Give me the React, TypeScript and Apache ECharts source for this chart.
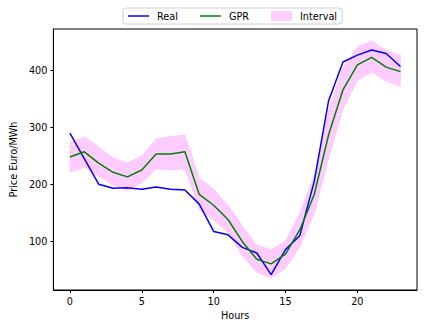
import React, { useEffect, useRef } from "react";
import * as echarts from "echarts";

const hours = [0, 1, 2, 3, 4, 5, 6, 7, 8, 9, 10, 11, 12, 13, 14, 15, 16, 17, 18, 19, 20, 21, 22, 23];
const real = [290, 245, 200, 193, 194, 191, 195, 191, 190, 165, 117, 111, 89, 79, 41, 85, 110, 205, 347, 415, 427, 436, 430, 407];
const gpr = [248, 257, 237, 221, 213, 225, 253, 253, 257, 182, 163, 138, 99, 68, 60, 77, 120, 182, 287, 366, 410, 423, 406, 398];
const upper = [274, 283, 266, 246, 238, 250, 280, 284, 287, 211, 192, 163, 127, 93, 85, 100, 150, 215, 330, 405, 442, 452, 435, 427];
const lower = [221, 230, 214, 198, 189, 202, 227, 225, 227, 156, 137, 115, 74, 45, 35, 52, 89, 148, 245, 332, 383, 397, 381, 372];
const xTicks = [0, 5, 10, 15, 20];
const yTicks = [100, 200, 300, 400];

const FONT = "DejaVu Sans";
const FS = 9.7;
const PINK = "rgba(255,0,255,0.2)";
const LINE_ICON = "path://M0,0L14,0L14,1L0,1Z";

export default function App() {
  const ref = useRef<HTMLDivElement>(null);
  useEffect(() => {
    document.body.style.margin = "0";
    const chart = echarts.init(ref.current!, null, { renderer: "svg" });
    chart.setOption({
      animation: false,
      backgroundColor: "#ffffff",
      legend: {
        top: 8,
        left: 123,
        orient: "horizontal",
        itemWidth: 21,
        itemHeight: 10,
        itemGap: 22,
        padding: [3, 5],
        borderColor: "#d0d0d0",
        borderWidth: 1,
        borderRadius: 3,
        textStyle: { fontSize: FS, fontFamily: FONT, color: "#000", padding: [0, 0, 0, 3] },
        data: [
          { name: "Real", icon: LINE_ICON, itemStyle: { color: "#0000ff" } },
          { name: "GPR", icon: LINE_ICON, itemStyle: { color: "#008000" } },
          { name: "Interval", icon: "rect", itemStyle: { color: PINK } },
        ],
      },
      grid: {
        left: 49,
        top: 29,
        width: 368,
        height: 261,
        show: true,
        borderColor: "#000",
        borderWidth: 1,
        backgroundColor: "transparent",
      },
      xAxis: {
        type: "value",
        min: -1.15,
        max: 24.15,
        name: "Hours",
        nameLocation: "middle",
        nameGap: 19,
        nameTextStyle: { fontSize: FS, fontFamily: FONT, color: "#000" },
        axisLine: { show: true, onZero: false, lineStyle: { color: "#000", width: 1 } },
        axisTick: { show: true, length: 3, lineStyle: { color: "#000" }, customValues: xTicks },
        axisLabel: { fontSize: FS, fontFamily: FONT, color: "#000", margin: 6, customValues: xTicks },
        splitLine: { show: false },
      },
      yAxis: {
        type: "value",
        min: 14,
        max: 473,
        name: "Price Euro/MWh",
        nameLocation: "middle",
        nameGap: 33,
        nameTextStyle: { fontSize: FS, fontFamily: FONT, color: "#000" },
        axisLine: { show: true, onZero: false, lineStyle: { color: "#000", width: 1 } },
        axisTick: { show: true, length: 3, lineStyle: { color: "#000" }, customValues: yTicks },
        axisLabel: { fontSize: FS, fontFamily: FONT, color: "#000", margin: 6, customValues: yTicks },
        splitLine: { show: false },
      },
      series: [
        {
          type: "custom",
          name: "Interval",
          itemStyle: { color: PINK },
          z: 1,
          data: hours.map((h, i) => [h, upper[i], lower[i]]),
          encode: { x: 0, y: [1, 2] },
          renderItem: (params: any, api: any) => {
            if (params.dataIndex !== 0) return null;
            const pts: number[][] = [];
            for (let i = 0; i < hours.length; i++) pts.push(api.coord([hours[i], upper[i]]));
            for (let i = hours.length - 1; i >= 0; i--) pts.push(api.coord([hours[i], lower[i]]));
            return {
              type: "polygon",
              shape: { points: pts },
              style: { fill: PINK, stroke: PINK, lineWidth: 0.5 },
            };
          },
        },
        {
          type: "line",
          name: "Real",
          z: 3,
          symbol: "none",
          data: hours.map((h, i) => [h, real[i]]),
          lineStyle: { color: "#0000ff", width: 1.5 },
          itemStyle: { color: "#0000ff" },
        },
        {
          type: "line",
          name: "GPR",
          z: 3,
          symbol: "none",
          data: hours.map((h, i) => [h, gpr[i]]),
          lineStyle: { color: "#008000", width: 1.5 },
          itemStyle: { color: "#008000" },
        },
      ],
    });
    return () => chart.dispose();
  }, []);
  return <div ref={ref} style={{ width: 425, height: 328 }} />;
}
